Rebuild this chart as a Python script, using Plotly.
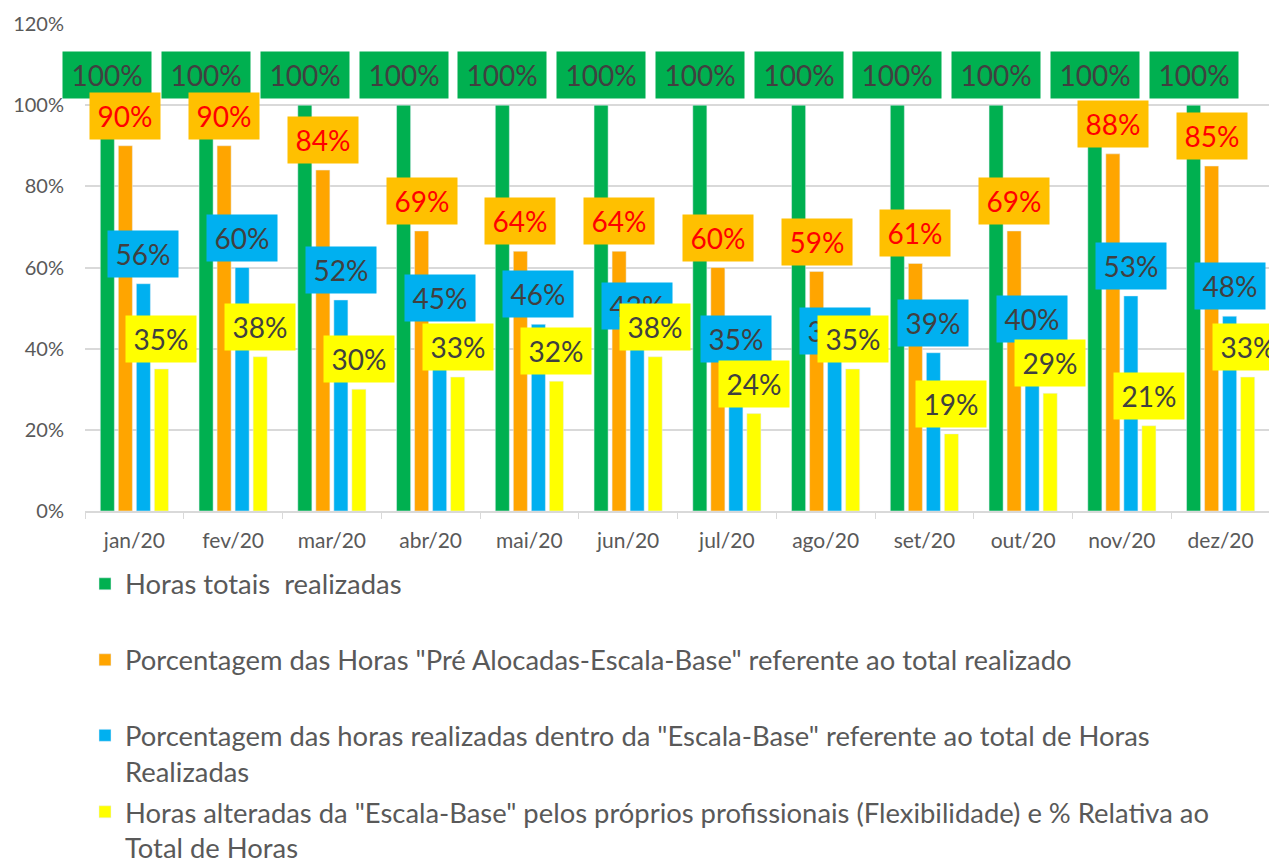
import plotly.graph_objects as go

months = ["jan/20", "fev/20", "mar/20", "abr/20", "mai/20", "jun/20",
          "jul/20", "ago/20", "set/20", "out/20", "nov/20", "dez/20"]
total = [100, 100, 100, 100, 100, 100, 100, 100, 100, 100, 100, 100]
pre_alocadas = [90, 90, 84, 69, 64, 64, 60, 59, 61, 69, 88, 85]
dentro_escala = [56, 60, 52, 45, 46, 43, 35, 37, 39, 40, 53, 48]
flexibilidade = [35, 38, 30, 33, 32, 38, 24, 35, 19, 29, 21, 33]

names = [
    "Horas totais  realizadas",
    "Porcentagem das Horas \"Pré Alocadas-Escala-Base\" referente ao total realizado",
    "Porcentagem das horas realizadas dentro da \"Escala-Base\" referente ao total de Horas<br>Realizadas",
    "Horas alteradas da \"Escala-Base\" pelos próprios profissionais (Flexibilidade) e % Relativa ao<br>Total de Horas",
]
series = [total, pre_alocadas, dentro_escala, flexibilidade]
bar_colors = ["#00B050", "#FFA500", "#00B0F0", "#FFFF00"]
box_colors = ["#00B050", "#FFC000", "#00B0F0", "#FFFF00"]
text_colors = ["#404040", "#FF0000", "#404040", "#404040"]

FONT = "Lato"
GRAY = "#595959"

fig = go.Figure()
legend_ids = ["legend", "legend2", "legend3", "legend4"]
for k, (nm, vals) in enumerate(zip(names, series)):
    fig.add_trace(go.Bar(
        x=months, y=vals, name=nm, marker_color=bar_colors[k],
        legend=legend_ids[k], textposition="none", hoverinfo="x+y",
    ))

bargap = 0.27
slot = (1 - bargap) / 4
offsets = [(-1.5 + k) * slot for k in range(4)]

annotations = []
for k, vals in enumerate(series):
    for i, v in enumerate(vals):
        txt = f"{v}%"
        annotations.append(dict(
            x=i + offsets[k], y=v, xref="x", yref="y",
            text=txt, showarrow=False, yshift=30,
            xanchor="center", yanchor="middle",
            bgcolor=box_colors[k], borderpad=0,
            width=88 if len(txt) == 4 else 70, height=46,
            font=dict(family=FONT, size=28, color=text_colors[k]),
        ))

PLOT_H = 487.0
def py(px):
    return (511 - px) / PLOT_H

leg_y = [py(584), py(660), py(753.5), py(830)]
leg_common = dict(x=0.0, xanchor="left", yanchor="middle", bgcolor="rgba(0,0,0,0)",
                  font=dict(family=FONT, size=27.4, color=GRAY), valign="top")

fig.update_layout(
    width=1277, height=858,
    margin=dict(l=77, r=15, t=16, b=355, autoexpand=False),
    paper_bgcolor="white", plot_bgcolor="white",
    barmode="group", bargap=bargap, bargroupgap=0.22,
    showlegend=True,
    annotations=annotations,
    font=dict(family=FONT, color=GRAY),
    xaxis=dict(
        type="category", range=[-0.5, 11.5], showgrid=False, showline=True, linecolor="#D9D9D9", linewidth=1.5,
        ticks="outside", tickson="boundaries", ticklen=6, tickcolor="#D9D9D9",
        tickfont=dict(family=FONT, size=21, color=GRAY), automargin=False,
        ticklabelstandoff=10,
    ),
    yaxis=dict(
        range=[0, 120], dtick=20, ticksuffix="%", showgrid=True, gridcolor="#D9D9D9",
        gridwidth=1.5, zeroline=False, showline=False, automargin=False,
        tickfont=dict(family=FONT, size=20, color=GRAY), ticklabelstandoff=20,
    ),
    legend=dict(y=leg_y[0], **leg_common),
    legend2=dict(y=leg_y[1], **leg_common),
    legend3=dict(y=leg_y[2], **leg_common),
    legend4=dict(y=leg_y[3], **leg_common),
)

fig.write_html("out.html")
